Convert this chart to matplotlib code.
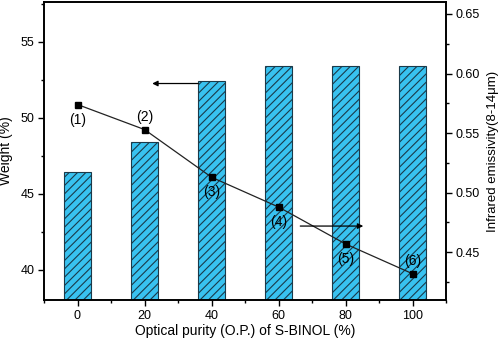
import matplotlib
matplotlib.use("Agg")
import matplotlib.pyplot as plt
from matplotlib.ticker import MultipleLocator

plt.rcParams['font.family'] = ['Liberation Sans', 'DejaVu Sans']
plt.rcParams['hatch.color'] = '#1b4f6e'
plt.rcParams['hatch.linewidth'] = 0.8

# data
purity = [0, 20, 40, 60, 80, 100]
weight = [46.4, 48.4, 52.4, 53.4, 53.4, 53.4]
emissivity = [0.574, 0.553, 0.513, 0.488, 0.457, 0.432]
point_labels = ['(1)', '(2)', '(3)', '(4)', '(5)', '(6)']
label_above = [False, True, False, False, False, True]

fig = plt.figure(figsize=(5.0, 3.42), dpi=100)
ax = fig.add_axes([0.088, 0.123, 0.804, 0.871])

ax.bar(purity, weight, width=8, bottom=0, color='#38c2f0',
       edgecolor='#1a3a4a', linewidth=0.8, hatch='////', zorder=2)
ax.set_xlim(-10, 110)
ax.set_ylim(38, 57.6)
ax.xaxis.set_major_locator(MultipleLocator(20))
ax.xaxis.set_minor_locator(MultipleLocator(10))
ax.yaxis.set_major_locator(MultipleLocator(5))
ax.yaxis.set_minor_locator(MultipleLocator(2.5))
ax.set_xlabel('Optical purity (O.P.) of S-BINOL (%)', fontsize=10, labelpad=2)
ax.set_ylabel('Weight (%)', fontsize=10, labelpad=5)

ax2 = ax.twinx()
ax2.plot(purity, emissivity, color='#222222', linewidth=0.9,
         marker='s', markersize=5, markerfacecolor='black',
         markeredgecolor='black', zorder=3)
ax2.set_ylim(0.41, 0.66)
ax2.yaxis.set_major_locator(MultipleLocator(0.05))
ax2.yaxis.set_minor_locator(MultipleLocator(0.025))
ax2.set_ylabel('Infrared emissivity(8-14\u03bcm)', fontsize=9.5, labelpad=5)

for x, y, lab, up in zip(purity, emissivity, point_labels, label_above):
    dy = 9 if up else -11
    ax2.annotate(lab, (x, y), xytext=(0, dy), textcoords='offset points',
                 ha='center', va='center', fontsize=10)

# arrows showing which axis each series belongs to
ax.annotate('', xy=(22.3, 52.24), xytext=(36, 52.24),
            arrowprops=dict(arrowstyle='-|>', color='black', lw=0.9,
                            mutation_scale=8, shrinkA=0, shrinkB=0))
ax2.annotate('', xy=(85.3, 0.472), xytext=(66.5, 0.472),
             arrowprops=dict(arrowstyle='-|>', color='black', lw=0.9,
                             mutation_scale=8, shrinkA=0, shrinkB=0))

for a in (ax, ax2):
    a.tick_params(which='both', direction='out', labelsize=9, width=1, pad=3)
    a.tick_params(which='major', length=4)
    a.tick_params(which='minor', length=2.5)
    for s in a.spines.values():
        s.set_linewidth(1.2)
ax.tick_params(top=False, right=False)

fig.savefig('out.png', dpi=100)
